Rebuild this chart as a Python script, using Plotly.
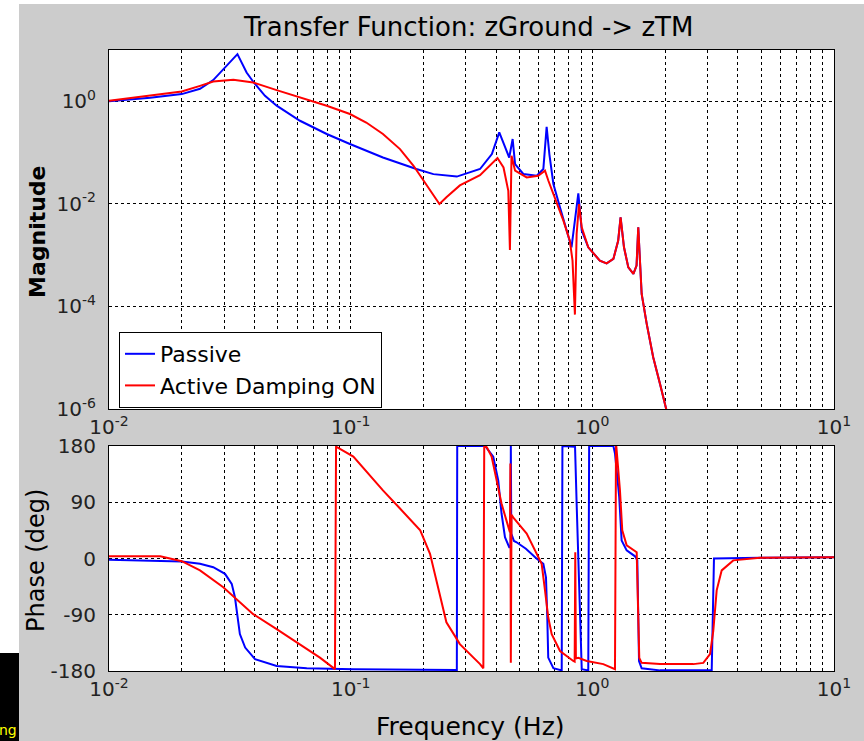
import plotly.graph_objects as go

# ---------------- data ----------------
# Magnitude, Passive (blue)
mag_passive_f = [0.0100, 0.0148, 0.0200, 0.0238, 0.0270, 0.0307, 0.0340, 0.0371, 0.0398, 0.0442,
                 0.0494, 0.0617, 0.0796,
                 0.0993, 0.136, 0.187, 0.220, 0.275, 0.283, 0.343, 0.384, 0.412, 0.436,
                 0.453, 0.468, 0.479, 0.518, 0.589, 0.627, 0.647, 0.664, 0.690, 0.735,
                 0.796, 0.820, 0.875, 0.904, 0.962, 1.074, 1.146, 1.222, 1.279, 1.309,
                 1.352, 1.409, 1.479, 1.524, 1.549, 1.585, 1.600, 1.679, 1.786, 1.905,
                 2.032, 2.200]
mag_passive = [1.00, 1.17, 1.38, 1.75, 2.59, 4.9, 8.3, 3.64, 2.3, 1.28,
               0.82, 0.417, 0.23,
               0.147, 0.080, 0.0478, 0.038, 0.034, 0.0354, 0.0478, 0.0935, 0.247, 0.126,
               0.080, 0.184, 0.0598, 0.0382, 0.0354, 0.0478, 0.318, 0.0935, 0.0244, 0.00853,
               0.00222, 0.00142, 0.0160, 0.00302, 0.00142, 0.000782, 0.000692, 0.000843, 0.00191, 0.00544,
               0.00142, 0.000578, 0.000430, 0.000624, 0.00348, 0.000430, 0.000175, 4.57e-5, 1.02e-5, 3.09e-6,
               1.01e-6, 2.0e-7]

# Magnitude, Active Damping ON (red)
mag_active_f = [0.0100, 0.0148, 0.0200, 0.0238, 0.0270, 0.0327, 0.0395, 0.0494, 0.0617, 0.0796,
                0.0993, 0.116,
                0.136, 0.160, 0.182, 0.200, 0.220, 0.233, 0.249, 0.283, 0.343, 0.405,
                0.429, 0.449, 0.456, 0.463, 0.479, 0.535, 0.597, 0.637, 0.658, 0.700,
                0.759, 0.807, 0.828, 0.847, 0.861, 0.881, 0.904, 0.962, 1.074, 1.146,
                1.222, 1.279, 1.309, 1.352, 1.409, 1.479, 1.524, 1.549, 1.585, 1.600,
                1.679, 1.786, 1.905, 2.032, 2.200]
mag_active = [1.02, 1.28, 1.55, 2.0, 2.43, 2.62, 2.32, 1.65, 1.19, 0.817,
              0.564, 0.386,
              0.230, 0.117, 0.0553, 0.0282, 0.0144, 0.00993, 0.0134, 0.0229, 0.0363, 0.0782,
              0.0513, 0.0180, 0.00126, 0.0867, 0.0443, 0.0328, 0.0354, 0.0443, 0.0282, 0.0134,
              0.0047, 0.00191, 0.000782, 6.93e-5, 0.00259, 0.00993, 0.00348, 0.00142, 0.000782, 0.000692,
              0.000843, 0.00191, 0.00544, 0.00142, 0.000578, 0.000430, 0.000624, 0.00348, 0.000430, 0.000175,
              4.57e-5, 1.02e-5, 3.09e-6, 1.01e-6, 2.0e-7]

# Phase, Passive (blue)
ph_passive_f = [0.0100, 0.0173, 0.0200, 0.0238, 0.0270, 0.0302, 0.0322, 0.0332, 0.0340, 0.0348,
                0.0366, 0.0402, 0.0494, 0.0658, 0.1026, 0.275, 0.276, 0.360, 0.389, 0.408,
                0.421, 0.435, 0.453, 0.459, 0.460, 0.462, 0.474, 0.486, 0.531, 0.589,
                0.627, 0.643, 0.651, 0.657, 0.690, 0.747, 0.752, 0.848, 0.862, 0.883,
                0.904, 0.962, 0.970, 1.222, 1.241, 1.292, 1.322, 1.387, 1.502, 1.535,
                1.560, 1.600, 1.905, 3.119, 3.187, 4.94, 10.0]
ph_passive = [-2, -4, -4.8, -8.5, -14, -24.6, -40.6, -62, -94, -121,
              -142.5, -161, -172, -175.6, -177.3, -178.4, 180, 180, 163, 125,
              72, 34, 18, 18, 180, 40, 28, 26, 15.6, -0.5,
              -8.5, -30, -94, -158.6, -175.6, -179, 180, 179, 82, -46,
              -177, -179, 180, 180, 168, 98.5, 29, 13, 3.5, -3,
              -164, -175.6, -179, -179, 0, 1, 2]

# Phase, Active Damping ON (red)
ph_active_f = [0.0100, 0.0163, 0.0200, 0.0238, 0.0297, 0.0395, 0.0494, 0.0617, 0.0746, 0.0861,
               0.0870, 0.1026, 0.136, 0.160, 0.194, 0.213, 0.234, 0.249, 0.275, 0.283,
               0.343, 0.354, 0.357, 0.366, 0.383, 0.402, 0.421, 0.441, 0.456, 0.458,
               0.460, 0.463, 0.474, 0.535, 0.589, 0.617, 0.637, 0.657, 0.679, 0.735,
               0.834, 0.845, 0.850, 0.855, 0.875, 0.948, 1.110, 1.241, 1.253, 1.257,
               1.301, 1.330, 1.387, 1.526, 1.564, 1.600, 1.905, 2.617, 2.879, 3.069,
               3.166, 3.270, 3.430, 3.830, 4.94, 10.0]
ph_active = [3.7, 3.7, -4.3, -19, -46, -89, -113, -137, -158.6, -177,
             179, 163, 109, 80, 45, 7.6, -57, -102, -129, -137,
             -169, -175.6, 180, 178, 163, 125, 88, 61, 42, 152,
             -167, 70, 64, 40, 8, -8.5, -51, -94, -121, -148,
             -164, -165, 10, -160, -159, -164, -169, -177, 180, 179,
             109, 45, 21, 10, -159, -167, -169, -169, -167, -153,
             -116, -51, -19, -3, 1, 2]

x_tickvals = [0.01, 0.1, 1.0, 10.0]
x_ticktext = ["10<sup>-2</sup>", "10<sup>-1</sup>", "10<sup>0</sup>", "10<sup>1</sup>"]
x_minor_vals = [m * 10.0 ** e for e in (-2, -1, 0) for m in range(2, 10)]

mag_tickvals = [1e-6, 1e-4, 1e-2, 1e0]
mag_ticktext = ["10<sup>-6</sup>", "10<sup>-4</sup>", "10<sup>-2</sup>", "10<sup>0</sup>"]
ph_tickvals = [-180, -90, 0, 90, 180]
ph_ticktext = ["-180", "-90", "0", "90", "180"]

# ---------------- figure ----------------
W, H = 864, 741
FONT = "DejaVu Sans"
GREY = "#cccccc"

def px_x(p):
    return p / W

def px_y(p):
    return 1 - p / H

fig = go.Figure()
fig.add_trace(go.Scatter(x=mag_passive_f, y=mag_passive, mode="lines", name="Passive",
                         line=dict(color="#0000ff", width=2), xaxis="x", yaxis="y"))
fig.add_trace(go.Scatter(x=mag_active_f, y=mag_active, mode="lines", name="Active Damping ON",
                         line=dict(color="#ff0000", width=2), xaxis="x", yaxis="y"))
fig.add_trace(go.Scatter(x=ph_passive_f, y=ph_passive, mode="lines", showlegend=False,
                         line=dict(color="#0000ff", width=2), xaxis="x2", yaxis="y2"))
fig.add_trace(go.Scatter(x=ph_active_f, y=ph_active, mode="lines", showlegend=False,
                         line=dict(color="#ff0000", width=2), xaxis="x2", yaxis="y2"))

GRID = dict(showgrid=True, gridcolor="black", gridwidth=1, griddash="3px,3px")
axis_common = dict(showline=True, linecolor="black", linewidth=1, mirror=True,
                   zeroline=False, ticks="", automargin=False,
                   tickfont=dict(family=FONT, size=20, color="#222"), **GRID)
x_minor = dict(tickmode="array", tickvals=x_minor_vals, ticks="", **GRID)

xdom = [px_x(109), px_x(834)]
fig.update_layout(
    template="none",
    width=W, height=H,
    margin=dict(l=0, r=0, t=0, b=0, autoexpand=False),
    paper_bgcolor=GREY, plot_bgcolor="white",
    font=dict(family=FONT, color="black"),
    xaxis=dict(type="log", domain=xdom, range=[-2, 1], anchor="y",
               tickmode="array", tickvals=x_tickvals, ticktext=x_ticktext,
               minor=x_minor, **axis_common),
    yaxis=dict(type="log", domain=[px_y(409), px_y(50)], range=[-6, 1], anchor="x",
               tickmode="array", tickvals=mag_tickvals, ticktext=mag_ticktext,
               ticklabelstandoff=8, **axis_common),
    xaxis2=dict(type="log", domain=xdom, range=[-2, 1], anchor="y2",
                tickmode="array", tickvals=x_tickvals, ticktext=x_ticktext,
                minor=x_minor, **axis_common),
    yaxis2=dict(domain=[px_y(671), px_y(446)], range=[-180, 180], anchor="x2",
                tickmode="array", tickvals=ph_tickvals, ticktext=ph_ticktext,
                ticklabelstandoff=8, **axis_common),
    showlegend=True,
    legend=dict(x=px_x(119), y=px_y(332), xanchor="left", yanchor="top",
                bgcolor="white", bordercolor="black", borderwidth=1,
                font=dict(family=FONT, size=22, color="black"), tracegroupgap=0),
)

annotations = [
    dict(text="Transfer Function: zGround -> zTM", x=px_x(468), y=px_y(27),
         xref="paper", yref="paper", showarrow=False, xanchor="center", yanchor="middle",
         font=dict(family=FONT, size=26, color="black")),
    dict(text="<b>Magnitude</b>", x=px_x(37), y=px_y(232), textangle=-90,
         xref="paper", yref="paper", showarrow=False, xanchor="center", yanchor="middle",
         font=dict(family=FONT, size=22, color="black")),
    dict(text="Phase (deg)", x=px_x(36), y=px_y(561), textangle=-90,
         xref="paper", yref="paper", showarrow=False, xanchor="center", yanchor="middle",
         font=dict(family=FONT, size=24, color="black")),
    dict(text="Frequency (Hz)", x=px_x(471), y=px_y(726),
         xref="paper", yref="paper", showarrow=False, xanchor="center", yanchor="middle",
         font=dict(family=FONT, size=25, color="black")),
    dict(text="ng", x=px_x(19), y=px_y(730),
         xref="paper", yref="paper", showarrow=False, xanchor="right", yanchor="middle",
         font=dict(family=FONT, size=14, color="#ffff00")),
]
fig.update_layout(annotations=annotations)

fig.update_layout(shapes=[
    dict(type="rect", xref="paper", yref="paper", x0=0, x1=px_x(19), y0=px_y(653), y1=1,
         fillcolor="white", line=dict(width=0), layer="above"),
    dict(type="rect", xref="paper", yref="paper", x0=0, x1=1, y0=px_y(4), y1=1,
         fillcolor="white", line=dict(width=0), layer="above"),
    dict(type="rect", xref="paper", yref="paper", x0=0, x1=px_x(19), y0=0, y1=px_y(653),
         fillcolor="black", line=dict(width=0), layer="above"),
])

fig.write_html("out.html",
               config={"displayModeBar": False},
               post_script="document.body.style.margin='0px';document.body.style.padding='0px';"
                           "document.body.style.overflow='hidden';")
